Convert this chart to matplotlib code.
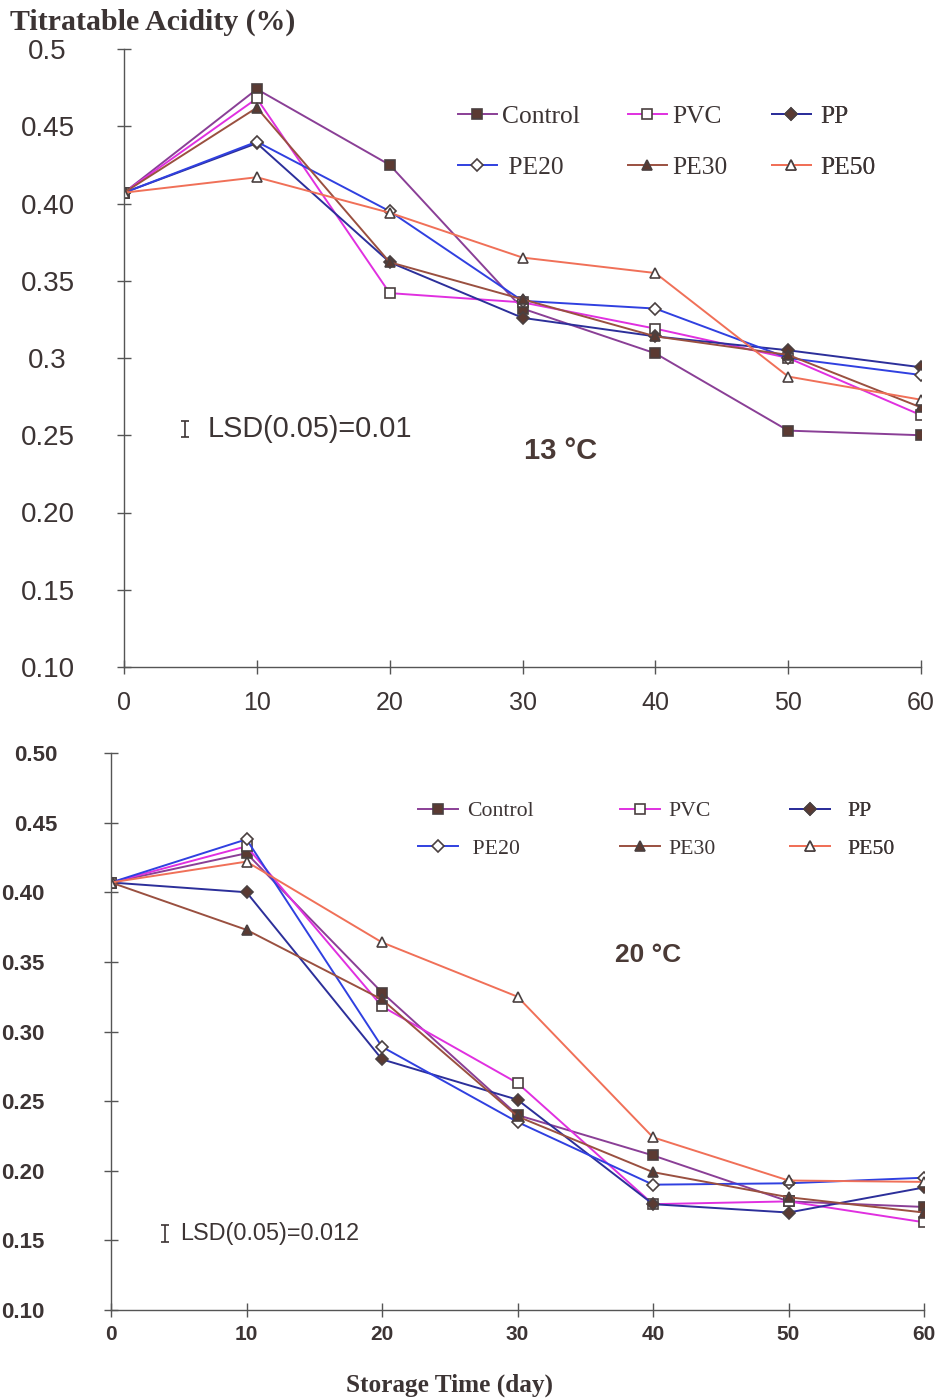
import matplotlib
matplotlib.use("Agg")
import matplotlib.pyplot as plt
from matplotlib.transforms import ScaledTranslation

days = [0, 10, 20, 30, 40, 50, 60]
series = ["Control", "PVC", "PP", "PE20", "PE30", "PE50"]

# titratable acidity (%) at 13 °C
control_13 = [0.407, 0.474, 0.425, 0.332, 0.303, 0.253, 0.250]
pvc_13 = [0.407, 0.468, 0.342, 0.336, 0.319, 0.300, 0.263]
pp_13 = [0.407, 0.439, 0.362, 0.326, 0.314, 0.305, 0.294]
pe20_13 = [0.407, 0.440, 0.395, 0.337, 0.332, 0.300, 0.289]
pe30_13 = [0.407, 0.462, 0.362, 0.338, 0.314, 0.302, 0.268]
pe50_13 = [0.407, 0.417, 0.394, 0.365, 0.355, 0.288, 0.273]

# titratable acidity (%) at 20 °C
control_20 = [0.407, 0.428, 0.328, 0.240, 0.211, 0.178, 0.174]
pvc_20 = [0.407, 0.433, 0.318, 0.263, 0.176, 0.178, 0.163]
pp_20 = [0.407, 0.400, 0.280, 0.251, 0.176, 0.170, 0.188]
pe20_20 = [0.407, 0.438, 0.289, 0.235, 0.190, 0.191, 0.195]
pe30_20 = [0.407, 0.373, 0.323, 0.239, 0.199, 0.181, 0.170]
pe50_20 = [0.407, 0.422, 0.364, 0.325, 0.224, 0.193, 0.192]

yticks = [0.10, 0.15, 0.20, 0.25, 0.30, 0.35, 0.40, 0.45, 0.50]
ylabels_13 = ["0.10", "0.15", "0.20", "0.25", "0.3", "0.35", "0.40", "0.45", "0.5"]
ylabels_20 = ["0.10", "0.15", "0.20", "0.25", "0.30", "0.35", "0.40", "0.45", "0.50"]

lsd_13 = 0.01
lsd_20 = 0.012

brown = "#5b3a32"
edge = "#4a4040"
styles = {
    "Control": dict(color="#8a3f96", marker="s", mfc=brown),
    "PVC": dict(color="#e030e0", marker="s", mfc="white"),
    "PP": dict(color="#2c2f9a", marker="D", mfc=brown),
    "PE20": dict(color="#3040e0", marker="D", mfc="white"),
    "PE30": dict(color="#9a5040", marker="^", mfc=brown),
    "PE50": dict(color="#f07058", marker="^", mfc="white"),
}
msize = {"s": 7.5, "D": 6, "^": 7.5}

txt = "#3c3434"
serif = ["Liberation Serif", "DejaVu Serif"]
sans = ["Liberation Sans", "DejaVu Sans"]

W, H = 936, 1398
fig = plt.figure(figsize=(W / 100, H / 100), dpi=100)
ax1 = fig.add_axes([124 / W, 1 - 667 / H, 797 / W, 618 / H])
ax2 = fig.add_axes([111 / W, 1 - 1310 / H, 813 / W, 557 / H])


def draw(ax, data):
    handles = {}
    for name, vals in zip(series, data):
        st = styles[name]
        h, = ax.plot(days, vals, color=st["color"], lw=1.4, marker=st["marker"],
                     ms=msize[st["marker"]], mfc=st["mfc"], mec=edge, mew=1.2)
        handles[name] = h
    ax.set_xlim(0, 60)
    ax.set_ylim(0.10, 0.50)
    for s in ["top", "right"]:
        ax.spines[s].set_visible(False)
    for s in ["left", "bottom"]:
        ax.spines[s].set_color("#555")
        ax.spines[s].set_linewidth(1.0)
    ax.set_xticks(days)
    ax.set_yticks(yticks)
    ax.tick_params(direction="inout", length=10, width=1.0, color="#555", labelcolor=txt)
    return handles


def legend_columns(ax, handles, cols, rows_y, size, hlen, pads, spacing):
    # one small legend per column so each column sits where it should
    for (x, names), pad in zip(cols, pads):
        leg = ax.legend([handles[n.strip()] for n in names], names, loc="center left",
                        bbox_to_anchor=(x / W, 1 - rows_y / H),
                        bbox_transform=fig.transFigure, frameon=False, borderpad=0,
                        borderaxespad=0, handlelength=hlen, handletextpad=pad,
                        labelspacing=spacing, prop={"family": serif, "size": size},
                        labelcolor=txt)
        ax.add_artist(leg)


# 13 °C panel
h1 = draw(ax1, [control_13, pvc_13, pp_13, pe20_13, pe30_13, pe50_13])
ax1.set_yticklabels(ylabels_13)
ax1.tick_params(axis="y", labelsize=20, pad=50)
ax1.tick_params(axis="x", labelsize=18, pad=12)
for lab in ax1.get_yticklabels():
    lab.set_ha("center")
for lab in ax1.get_xticklabels() + ax1.get_yticklabels():
    lab.set_family(sans)
legend_columns(ax1, h1, [(458, ["Control", " PE20"]), (628, ["PVC", "PE30"]),
                         (772, ["PP", "PE50"])], 142, 18.4, 1.52, [0.2, 0.2, 0.35], 1.1)

# 20 °C panel
h2 = draw(ax2, [control_20, pvc_20, pp_20, pe20_20, pe30_20, pe50_20])
ax2.set_yticklabels(ylabels_20)
ax2.tick_params(axis="y", labelsize=16, pad=74)
ax2.tick_params(axis="x", labelsize=15, pad=6)
for lab in ax2.get_yticklabels():
    lab.set_ha("left")
for lab in ax2.get_xticklabels() + ax2.get_yticklabels():
    lab.set_family(sans)
    lab.set_weight("bold")
shift = ScaledTranslation(0.13, 0, fig.dpi_scale_trans)
for lab in ax2.get_yticklabels()[-2:]:
    lab.set_transform(lab.get_transform() + shift)
legend_columns(ax2, h2, [(418, ["Control", " PE20"]), (620, ["PVC", "PE30"]),
                         (790, ["PP", "PE50"])], 830, 15.7, 1.83, [0.4, 0.4, 0.78], 0.8)

# LSD bars
ax1.errorbar([4.6], [0.254], yerr=lsd_13 / 2, fmt="none", ecolor=txt, elinewidth=1.2,
             capsize=3, capthick=1.2)
ax1.text(6.3, 0.254, "LSD(0.05)=0.01", family=sans, fontsize=20.8, color=txt, va="center")
ax2.errorbar([4.0], [0.155], yerr=lsd_20 / 2, fmt="none", ecolor=txt, elinewidth=1.2,
             capsize=3, capthick=1.2)
ax2.text(5.1, 0.155, "LSD(0.05)=0.012", family=sans, fontsize=16.8, color=txt, va="center")

ax1.text(32.9, 0.240, "13 °C", family=sans, fontsize=21, weight="bold", color="#4a3a36",
         ha="center", va="center")
ax2.text(39.6, 0.355, "20 °C", family=sans, fontsize=19, weight="bold", color="#4a3a36",
         ha="center", va="center")

fig.text(10 / W, 1 - 22 / H, "Titratable Acidity (%)", family=serif, fontsize=21.5,
         weight="bold", color=txt, va="center")
fig.text(450 / W, 1 - 1385 / H, "Storage Time (day)", family=serif, fontsize=18.2,
         weight="bold", color=txt, ha="center", va="center")

fig.savefig("out.png", dpi=100)
